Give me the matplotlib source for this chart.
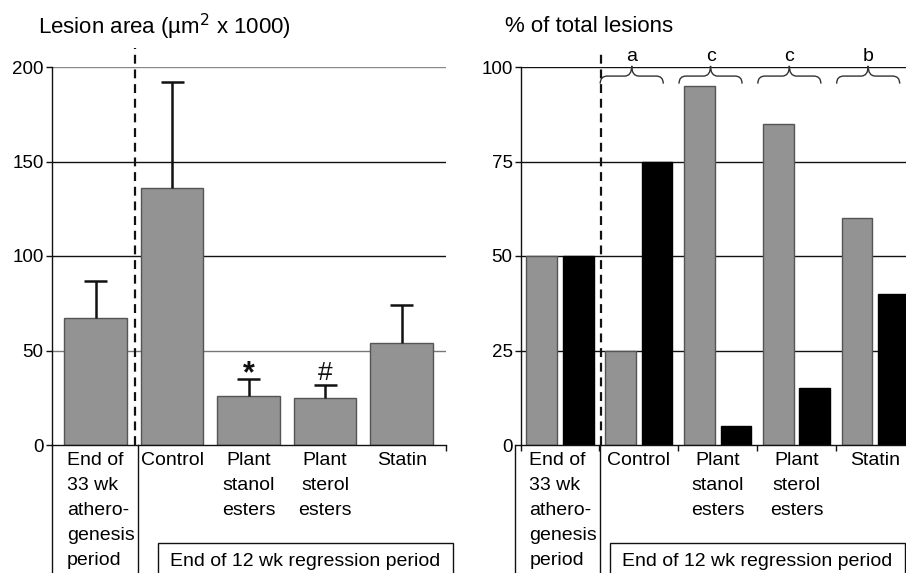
import matplotlib
matplotlib.use("Agg")
import matplotlib.pyplot as plt
from matplotlib.path import Path
from matplotlib.patches import PathPatch, Rectangle
import numpy as np

plt.rcParams["font.family"] = ["Liberation Sans", "DejaVu Sans"]

# ---- data -------------------------------------------------------------
groups = ["End of\n33 wk\nathero-\ngenesis\nperiod", "Control",
          "Plant\nstanol\nesters", "Plant\nsterol\nesters", "Statin"]
lesion_area = [67, 136, 26, 25, 54]
lesion_err = [20, 56, 9, 7, 20]
sig_marks = ["", "", "*", "#", ""]

pct_grey = [50, 25, 95, 85, 60]
pct_black = [50, 75, 5, 15, 40]
brace_letters = ["", "a", "c", "c", "b"]

GREY = "#939393"
EDGE = "#555555"
INK = "#111111"
W, H = 906, 573
LS = 1.62  # label line spacing

fig = plt.figure(figsize=(W / 100, H / 100), dpi=100)


def px_axes(x0, x1, y0, y1):
    return fig.add_axes([x0 / W, (H - y1) / H, (x1 - x0) / W, (y1 - y0) / H])


def style_axes(ax):
    for s in ("top", "right"):
        ax.spines[s].set_visible(False)
    for s in ("left", "bottom"):
        ax.spines[s].set_color(INK)
        ax.spines[s].set_linewidth(1.0)
    ax.tick_params(axis="y", length=4, width=1, color=INK, labelsize=13.5,
                   pad=2)
    ax.tick_params(axis="x", length=4, width=1, color=INK, labelbottom=False)


def below(ax, py):
    """axes-fraction y for a pixel row (0 line sits at px 445)."""
    return (445 - py) / 378


def brace(ax, x0, x1, y_end, y_mid, y_tip, r=0.09):
    xc = (x0 + x1) / 2
    verts = [(x0, y_end), (x0, y_mid), (x0 + r, y_mid),
             (xc - r, y_mid), (xc, y_mid), (xc, y_tip),
             (xc, y_mid), (xc + r, y_mid),
             (x1 - r, y_mid), (x1, y_mid), (x1, y_end)]
    codes = [Path.MOVETO, Path.CURVE3, Path.CURVE3,
             Path.LINETO, Path.CURVE3, Path.CURVE3,
             Path.CURVE3, Path.CURVE3,
             Path.LINETO, Path.CURVE3, Path.CURVE3]
    ax.add_patch(PathPatch(Path(verts, codes), fill=False, lw=1.0,
                           color="#333333", clip_on=False))


x = np.arange(len(groups))

# ---- left panel: lesion area -----------------------------------------
ax1 = px_axes(52, 446, 67, 445)
style_axes(ax1)
ax1.set_xlim(-0.57, 4.58)
ax1.set_ylim(0, 200)
ax1.set_yticks([0, 50, 100, 150, 200])
ax1.set_xticks([4.58])
for v, c in zip([50, 100, 150, 200], ["#777777", INK, INK, "#888888"]):
    ax1.axhline(v, color=c, lw=1.0, zorder=0)

ax1.bar(x, lesion_area, width=0.82, color=GREY, edgecolor=EDGE, lw=1.0,
        zorder=2)
tops = np.array(lesion_area) + np.array(lesion_err)
ax1.vlines(x, lesion_area, tops, color=INK, lw=1.8, zorder=3)
ax1.hlines(tops, x - 0.15, x + 0.15, color=INK, lw=1.8, zorder=3)
for xi, t, m in zip(x, tops, sig_marks):
    if m == "*":
        ax1.text(xi, t - 1.8, m, ha="center", va="baseline", fontsize=22,
                 fontweight="bold", color=INK)
    elif m:
        ax1.text(xi, t + 2.3, m, ha="center", va="baseline", fontsize=19,
                 color=INK)

ax1.plot([0.52, 0.52], [0, 210], color=INK, lw=1.6, ls=(0, (4, 2.6)),
         clip_on=False, zorder=4)

tr1 = ax1.get_xaxis_transform()
ax1.plot([-0.57, -0.57], [0, below(ax1, 600)], transform=tr1, color=INK,
         lw=1.0, clip_on=False)
ax1.plot([0.56, 0.56], [0, below(ax1, 600)], transform=tr1, color=INK,
         lw=1.0, clip_on=False)
ax1.text(0.07, below(ax1, 452), groups[0], transform=tr1, ha="center",
         va="top", multialignment="left", fontsize=14, linespacing=LS)
for xi, g in zip(x[1:], groups[1:]):
    ax1.text(xi, below(ax1, 452), g, transform=tr1, ha="center", va="top",
             fontsize=14, linespacing=LS)
ax1.add_patch(Rectangle((0.816, below(ax1, 590)), 4.67 - 0.816,
                        below(ax1, 543) - below(ax1, 590), transform=tr1,
                        fill=False, lw=1.0, ec=INK, clip_on=False))
ax1.text((0.816 + 4.67) / 2, below(ax1, 561), "End of 12 wk regression period",
         transform=tr1, ha="center", va="center", fontsize=14)

fig.text(38 / W, 1 - 27 / H, "Lesion area (\u00b5m$^{2}$ x 1000)",
         ha="left", va="center", fontsize=16)

# ---- right panel: % of total lesions ---------------------------------
ax2 = px_axes(521, 906, 67, 445)
style_axes(ax2)
ax2.set_xlim(-0.495, 4.39)
ax2.set_ylim(0, 100)
ax2.set_yticks([0, 25, 50, 75, 100])
ax2.set_xticks([-0.495, 0.5, 1.5, 2.5, 3.5])
for v in [25, 50, 75, 100]:
    ax2.axhline(v, color=INK, lw=1.0, zorder=0)

ax2.bar(x - 0.232, pct_grey, width=0.39, color=GREY, edgecolor=EDGE, lw=1.0,
        zorder=2)
ax2.bar(x + 0.232, pct_black, width=0.39, color="#000000", edgecolor="#000000",
        lw=1.0, zorder=2)

ax2.plot([0.52, 0.52], [0, 104.5], color=INK, lw=1.6, ls=(0, (4, 2.6)),
         clip_on=False, zorder=4)

for xi, letter in zip(x, brace_letters):
    if letter:
        xc = xi - 0.09
        brace(ax2, xc - 0.4, xc + 0.4, 95.6, 97.6, 100.3)
        ax2.text(xc, 102.8, letter, ha="center", va="center", fontsize=14)

tr2 = ax2.get_xaxis_transform()
ax2.plot([-0.57, -0.57], [0, below(ax2, 600)], transform=tr2, color=INK,
         lw=1.0, clip_on=False)
ax2.plot([0.51, 0.51], [0, below(ax2, 600)], transform=tr2, color=INK,
         lw=1.0, clip_on=False)
ax2.text(0.04, below(ax2, 452), groups[0], transform=tr2, ha="center",
         va="top", multialignment="left", fontsize=14, linespacing=LS)
for xi, g in zip(x[1:], groups[1:]):
    ax2.text(xi, below(ax2, 452), g, transform=tr2, ha="center", va="top",
             fontsize=14, linespacing=LS)
ax2.add_patch(Rectangle((0.635, below(ax2, 590)), 4.375 - 0.635,
                        below(ax2, 543) - below(ax2, 590), transform=tr2,
                        fill=False, lw=1.0, ec=INK, clip_on=False))
ax2.text((0.635 + 4.375) / 2, below(ax2, 561), "End of 12 wk regression period",
         transform=tr2, ha="center", va="center", fontsize=14)

fig.text(505 / W, 1 - 27 / H, "% of total lesions", ha="left", va="center",
         fontsize=16)

fig.savefig("out.png", dpi=100)
